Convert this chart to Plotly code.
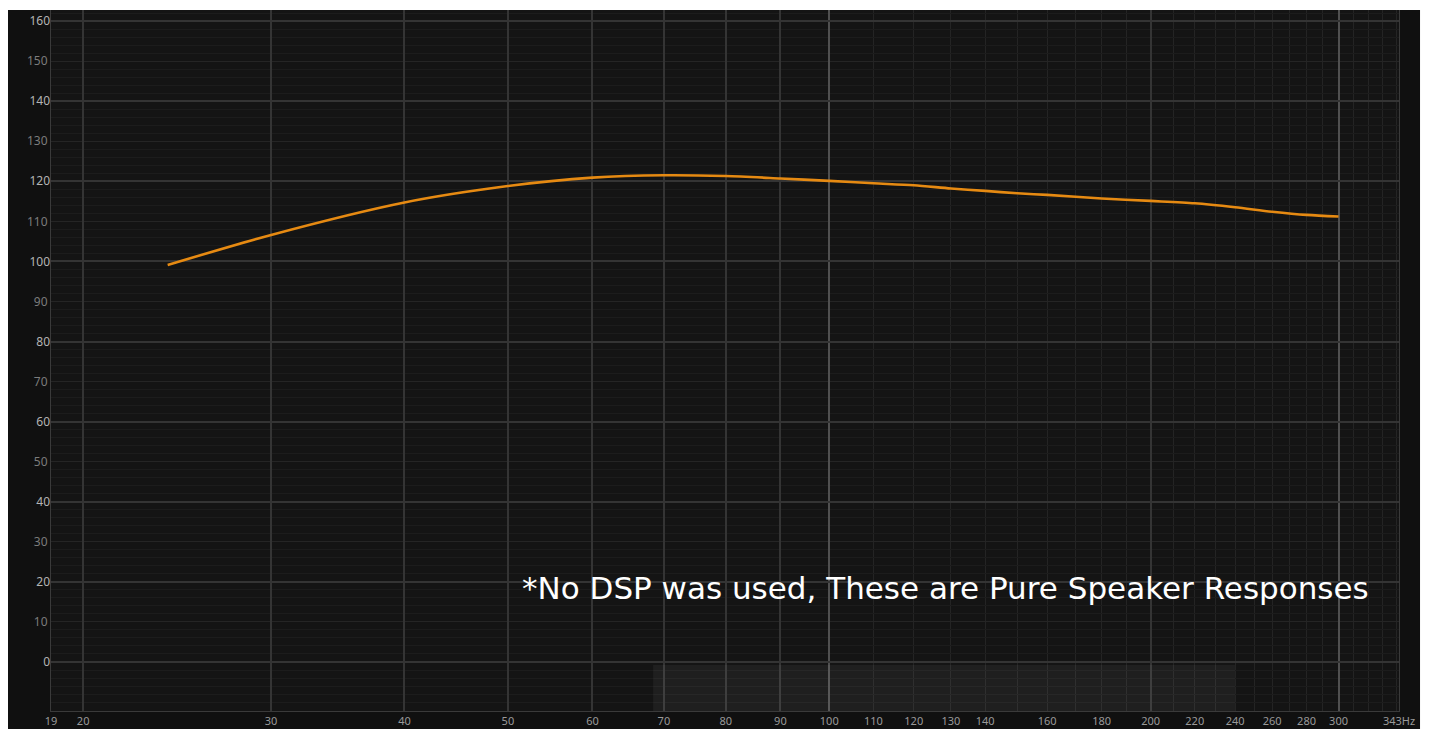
import math
import plotly.graph_objects as go

# ---------------- data ----------------
freq_hz = [24, 30, 40, 50, 60, 70, 80, 90, 100, 110, 120, 130, 140, 150, 160,
           180, 200, 220, 240, 260, 280, 300]
spl_db = [99.1, 106.6, 114.7, 118.8, 120.9, 121.5, 121.3, 120.7, 120.1, 119.5,
          119.0, 118.2, 117.6, 117.0, 116.6, 115.7, 115.1, 114.5, 113.5, 112.4,
          111.6, 111.2]

x_tick_vals = [18.66, 20, 30, 40, 50, 60, 70, 80, 90, 100, 110, 120, 130, 140,
               160, 180, 200, 220, 240, 260, 280, 300, 341.8]
x_tick_text = ["19", "20", "30", "40", "50", "60", "70", "80", "90", "100", "110",
               "120", "130", "140", "160", "180", "200", "220", "240", "260",
               "280", "300", "343Hz"]
x_grid_dim = [110, 120, 130, 140, 150, 160, 170, 180, 190, 210, 220, 230, 240,
              250, 260, 270, 280, 290, 310, 320, 330, 340]
x_grid_mid = [20, 30, 40, 50, 60, 70, 80, 90, 200]
x_grid_bright = [100, 300]

y_labels_even = [0, 20, 40, 60, 80, 100, 120, 140, 160]
y_labels_odd = [10, 30, 50, 70, 90, 110, 130, 150]

note_text = "*No DSP was used, These are Pure Speaker Responses"

x_range = [math.log10(18.66), math.log10(341.8)]
y_range = [-12.23, 162.75]

# ---------------- figure ----------------
fig = go.Figure()

# helper (empty) traces so overlay axes get drawn
fig.add_trace(go.Scatter(x=[], y=[], xaxis="x2", yaxis="y2", showlegend=False))
fig.add_trace(go.Scatter(x=[], y=[], xaxis="x3", yaxis="y", showlegend=False))

fig.add_trace(go.Scatter(
    x=freq_hz, y=spl_db, mode="lines",
    line=dict(color="#e68a12", width=2.6, shape="spline", smoothing=0.8),
    showlegend=False, hoverinfo="skip"))

tick_font = dict(family="Noto Sans, DejaVu Sans, sans-serif", size=11, color="#9a9a9a")

# the page body adds an 8px white margin around the figure
fig.update_layout(
    width=1421, height=721,
    margin=dict(l=43, r=30, t=2, b=18),
    paper_bgcolor="#101010",
    plot_bgcolor="#141414",
    xaxis=dict(
        type="log", range=x_range, tickmode="array", tickvals=x_tick_vals,
        ticktext=x_tick_text, showgrid=False, zeroline=False, ticks="",
        tickfont=tick_font, showline=True, linecolor="#3a3a3a", linewidth=1,
        automargin=False, ticklabelstandoff=0,
        minor=dict(tickmode="array", tickvals=x_grid_dim, showgrid=True,
                   gridcolor="#242424", gridwidth=1, ticks=""),
    ),
    xaxis2=dict(
        type="log", range=x_range, overlaying="x", anchor="y2", tickmode="array",
        tickvals=x_grid_bright, showticklabels=False, showgrid=True,
        gridcolor="#505050", gridwidth=1.5, zeroline=False, ticks="",
        automargin=False,
    ),
    xaxis3=dict(
        type="log", range=x_range, overlaying="x", anchor="y", tickmode="array",
        tickvals=x_grid_mid, showticklabels=False, showgrid=True,
        gridcolor="#343434", gridwidth=1.5, zeroline=False, ticks="",
        automargin=False,
    ),
    yaxis=dict(
        range=y_range, tickmode="array", tickvals=y_labels_odd, showgrid=True,
        gridcolor="#252525", gridwidth=1, zeroline=False, ticks="",
        tickfont=dict(family=tick_font["family"], size=12, color="#7c7c7c"),
        showline=True, linecolor="#3a3a3a", linewidth=1, mirror=True,
        automargin=False,
        minor=dict(dtick=2, tick0=0, showgrid=True, gridcolor="#1c1c1c",
                   gridwidth=1, ticks=""),
    ),
    yaxis2=dict(
        range=y_range, overlaying="y", side="left", anchor="x2", tickmode="array",
        tickvals=y_labels_even, showgrid=True, gridcolor="#343434", gridwidth=1.5,
        zeroline=False, ticks="", automargin=False,
        tickfont=dict(family=tick_font["family"], size=12, color="#b4b4b4"),
    ),
    showlegend=False,
)

# shaded overview region at bottom
fig.add_shape(type="rect", xref="x", yref="paper", x0=68.4, x1=240, y0=0, y1=0.0656,
              fillcolor="rgba(255,255,255,0.05)", line=dict(width=0), layer="above")

# white borders of the screenshot (top strip and right strip)
for x0, x1, y0, y1 in [(-0.05, 1.05, 1.0, 1.05), (1.0156, 1.05, -0.05, 1.05)]:
    fig.add_shape(type="rect", xref="paper", yref="paper", x0=x0, x1=x1, y0=y0, y1=y1,
                  fillcolor="#ffffff", line=dict(width=0), layer="above")

fig.add_annotation(
    text=note_text, xref="paper", yref="paper", x=0.9792, y=0.1755,
    xanchor="right", yanchor="middle", showarrow=False,
    font=dict(family="DejaVu Sans, sans-serif", size=31, color="#ffffff"),
)

fig.write_html("out.html")
